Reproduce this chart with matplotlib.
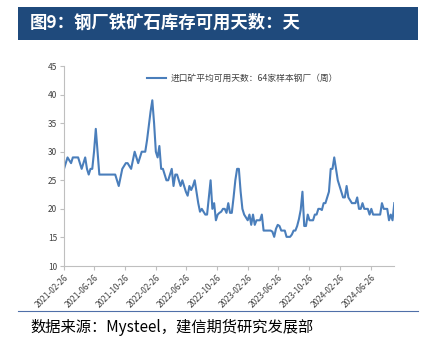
import numpy as np
import pandas as pd
import matplotlib
matplotlib.use("Agg")
import matplotlib.pyplot as plt
import matplotlib.dates as mdates
from matplotlib.patches import Rectangle
from matplotlib.lines import Line2D

plt.rcParams['font.family'] = ['Noto Sans CJK SC', 'DejaVu Sans']

# weekly data, 64 sample steel mills, starting 2021-02-26
start_date = "2021-02-26"
days = [
    27, 28, 29, 28.5, 28, 29, 29, 29, 29, 28,
    27, 28, 29, 27, 26, 27, 27, 30, 34, 30,
    26, 26, 26, 26, 26, 26, 26, 26, 26, 26,
    25, 24, 25.5, 27, 27.5, 28, 28, 27.5, 27, 28.5,
    30, 29, 28, 29, 30, 30, 30, 32, 34.5, 37,
    39, 35, 30, 29, 31, 27, 27, 26, 25, 25,
    26, 27, 24, 26, 26, 25, 24, 25, 24, 23,
    22.3, 24, 23.3, 24, 25, 23, 21, 19.5, 20, 19.5,
    19, 19, 22, 25, 20, 21, 18, 19, 19.3, 19.5,
    20, 20, 19.3, 21, 19.3, 19.3, 22, 25, 27, 27,
    23, 20, 19, 18.5, 18, 19, 17.2, 19, 17.2, 18,
    18, 18, 19, 16.2, 16.2, 16.2, 16.2, 16.2, 16, 15.1,
    16.5, 17.2, 17, 16.2, 16.2, 16.2, 15.1, 15.1, 15.1, 15.5,
    16.2, 16.2, 17, 18.2, 19.8, 23, 17, 17, 19, 18,
    18, 18, 19, 19, 20, 20, 19.8, 21, 21, 22,
    23, 27, 27, 29, 27, 25, 24, 23, 22, 22,
    24, 22, 21.5, 21, 21, 21, 22, 20, 20, 21,
    20, 20, 20, 19, 20, 19, 19, 19, 19, 19,
    21, 20, 20, 20, 18, 19, 18, 21,
]
tick_dates = ["2021-02-26", "2021-06-26", "2021-10-26", "2022-02-26",
              "2022-06-26", "2022-10-26", "2023-02-26", "2023-06-26",
              "2023-10-26", "2024-02-26", "2024-06-26"]
y_ticks = [10, 15, 20, 25, 30, 35, 40, 45]

title = "图9：钢厂铁矿石库存可用天数：天"
series_name = "进口矿平均可用天数：64家样本钢厂（周）"
source = "数据来源：Mysteel，建信期货研究发展部"

dates = pd.date_range(start_date, periods=len(days), freq="7D")

fig = plt.figure(figsize=(4.26, 3.45), dpi=100)

# title bar
fig.patches.append(Rectangle((18 / 426, 1 - 40 / 345), 400 / 426, 33 / 345,
                             transform=fig.transFigure, facecolor="#1f4a7c",
                             edgecolor="none"))
fig.text(30 / 426, 1 - 23 / 345, title, color="white", fontsize=12.5,
         fontweight="bold", va="center", ha="left")

ax = fig.add_axes([64 / 426, 1 - 266 / 345, 330.3 / 426, 200 / 345])
ax.plot(dates, days, color="#4a7ebb", linewidth=1.5)

ax.set_ylim(10, 45)
ax.set_yticks(y_ticks)
ax.set_xlim(dates[0], dates[-1])
ax.set_xticks(pd.to_datetime(tick_dates))
ax.xaxis.set_major_formatter(mdates.DateFormatter("%Y-%m-%d"))
for lbl in ax.get_xticklabels():
    lbl.set_rotation(45)
    lbl.set_ha("right")
    lbl.set_rotation_mode("anchor")

for s in ["top", "right"]:
    ax.spines[s].set_visible(False)
for s in ["left", "bottom"]:
    ax.spines[s].set_color("#bfbfbf")
    ax.spines[s].set_linewidth(0.8)
ax.tick_params(axis="both", colors="#bfbfbf", labelcolor="#404040",
               labelsize=6, length=3, width=0.8, pad=2)

handle = Line2D([], [], color="#4a7ebb", linewidth=1.5)
ax.legend([handle], [series_name], loc="upper center",
          bbox_to_anchor=(0.54, 1.0), frameon=False, fontsize=6.3,
          handlelength=2.2, handletextpad=0.5, labelcolor="#404040")

# source line and text
fig.add_artist(Line2D([18 / 426, 418 / 426], [1 - 311 / 345, 1 - 311 / 345],
                      transform=fig.transFigure, color="#4f6fa8",
                      linewidth=0.8))
fig.text(30 / 426, 1 - 327 / 345, source, color="black", fontsize=11,
         style="italic", va="center", ha="left")

fig.savefig("out.png", dpi=100)
